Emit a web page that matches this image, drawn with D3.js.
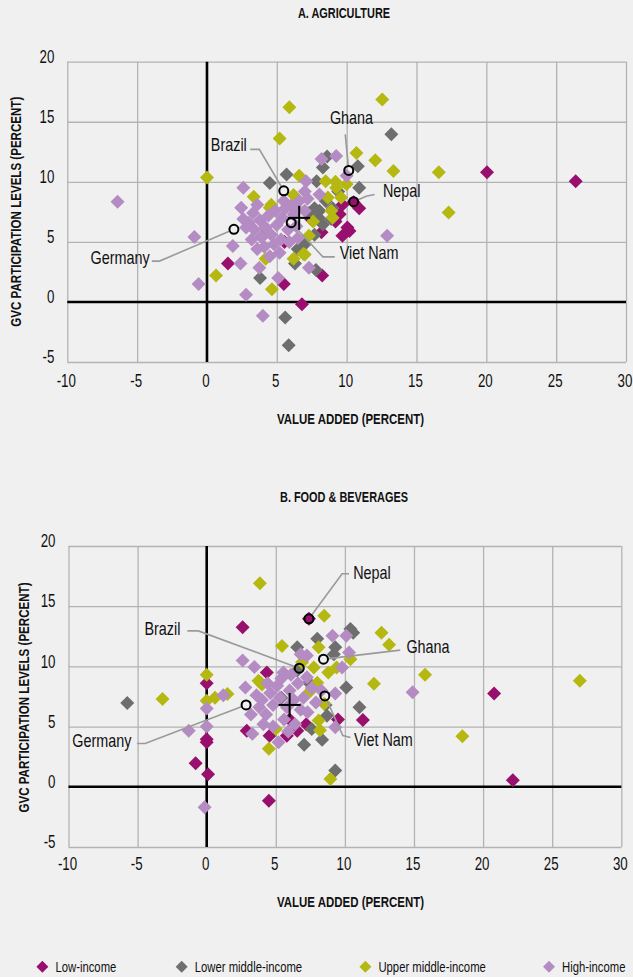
<!DOCTYPE html>
<html>
<head>
<meta charset="utf-8">
<script src="https://cdn.jsdelivr.net/npm/d3@7"></script>
<style>
body{margin:0;background:#f0f0f0;}
svg{display:block;font-family:"Liberation Sans",Arial,sans-serif;}
</style>
</head>
<body>
<svg id="chart" width="633" height="977"></svg>
<script>
//Data
const xTicks = [-10, -5, 0, 5, 10, 15, 20, 25, 30];
const yTicks = [-5, 0, 5, 10, 15, 20];
const incomeGroups = ['Low-income', 'Lower middle-income', 'Upper middle-income', 'High-income'];
const groupColors = ['#990f6e', '#6e6e6e', '#b5b811', '#b48cc3'];

// A. Agriculture: [value added, GVC participation]
const agriLow = [[20.05,10.8],[26.4,10.05],[1.5,3.2],[8.25,2.2],[5.5,1.5],[6.8,-0.2],[10.9,7.8],[9.7,5.5],
  [10.05,6.2],[8.2,5.8],[9.2,6.7],[10.5,8.3],[5.55,5.0],[4.0,5.5],[9.7,8.1],[10.2,5.9],[9.5,7.3],[7.45,6.9]];
const agriLowerMid = [[13.2,13.95],[5.85,-3.6],[5.6,-1.3],[3.8,2.0],[6.3,3.2],[7.8,2.65],[6.5,4.4],[10.9,9.5],
  [10.8,11.3],[8.6,12.1],[4.5,9.9],[5.7,10.6],[7.85,10.05],[8.3,11.2],[8.05,7.6],[8.3,6.45],[7.7,7.8],[8.5,8.4],
  [9.0,7.8],[8.9,6.9],[7.3,7.4],[8.0,7.0],[9.4,9.2],[7.0,4.8],[7.7,5.6]];
const agriUpperMid = [[12.55,16.85],[5.9,16.2],[0.0,10.35],[0.65,2.2],[4.65,1.05],[4.2,3.6],[6.9,4.0],[6.2,3.6],
  [7.3,5.5],[3.35,8.75],[4.6,8.1],[5.2,13.6],[10.7,12.4],[12.05,11.8],[13.35,10.9],[16.6,10.8],[17.3,7.45],
  [6.6,10.5],[8.5,10.05],[9.25,9.5],[9.6,8.7],[8.65,8.7],[9.0,7.0],[7.6,6.7],[4.5,7.85],[7.0,3.95],[9.2,10.0],
  [8.9,7.6],[6.2,8.9],[10.0,9.8]];
const agriHigh = [[-6.4,8.35],[-0.9,5.4],[-0.6,1.5],[12.9,5.5],[4.0,-1.15],[2.8,0.6],[2.4,3.2],[1.85,4.65],
  [3.75,2.85],[5.1,2.0],[7.3,2.85],[2.6,9.5],[2.45,7.85],[3.6,8.1],[9.25,12.15],[8.2,11.9],[10.0,10.5],
  [8.05,8.95],[7.1,10.05],[7.0,9.2],[6.6,8.4],[6.0,8.0],[3.0,6.6],[3.4,6.0],[3.8,6.8],[4.2,6.2],[4.6,5.6],
  [5.0,6.4],[5.4,7.0],[5.8,6.0],[6.2,7.3],[4.4,7.2],[3.9,5.4],[4.8,4.8],[5.3,5.2],[3.2,5.2],[2.8,6.2],
  [6.4,6.3],[5.6,7.8],[4.9,7.6],[4.1,4.6],[5.9,5.0],[6.5,5.3],[3.6,4.4],[5.2,4.1],[4.5,3.8],[6.3,7.9],
  [7.2,8.6],[5.5,8.4],[2.6,6.9],[7.0,7.6],[3.3,7.4]];
const agriMean = [6.6, 7.0];

// B. Food & beverages
const foodLow = [[0,8.6],[0,3.95],[0,3.7],[-0.8,1.95],[0.1,1.05],[20.8,7.75],[22.15,0.55],[7.4,13.95],[2.6,13.25],
  [4.5,-1.15],[11.3,5.55],[4.55,4.25],[5.8,4.25],[6.55,4.65],[9.5,5.6],[2.9,4.65],[4.35,9.5],[7.2,5.2],[6.0,5.6]];
const foodLowerMid = [[-5.75,6.95],[10.1,8.25],[11.05,6.6],[10.4,13.1],[8.0,12.3],[6.55,11.6],[9.3,11.6],[9.3,1.35],
  [7.05,3.5],[8.35,3.9],[7.6,4.8],[8.7,5.9],[7.4,8.65],[6.55,9.65],[9.2,11.0],[10.6,12.8],[8.6,6.8],[5.4,7.4]];
const foodUpperMid = [[-3.2,7.3],[0,9.3],[0,7.15],[0.6,7.4],[15.8,9.3],[27.0,8.8],[18.5,4.2],[3.85,16.9],[8.5,14.2],
  [12.65,12.8],[13.2,11.8],[12.1,8.55],[5.45,11.7],[8.1,11.6],[10.4,10.6],[8.8,9.5],[7.75,9.9],[4.0,8.5],
  [8.95,0.65],[4.5,3.15],[8.2,4.7],[5.0,4.8],[8.1,5.5],[8.5,6.9],[3.75,8.8],[7.5,7.95],[8.0,8.65],[6.9,10.35],
  [3.9,8.65],[1.5,7.7],[9.4,9.9]];
const foodHigh = [[0,6.5],[-1.3,4.65],[0,5.0],[-0.15,-1.7],[14.9,7.85],[10.1,12.55],[9.1,12.55],[10.3,11.15],
  [2.6,10.5],[3.45,9.95],[7.25,9.1],[9.8,9.9],[1.2,7.6],[2.8,8.25],[5.2,3.7],[9.3,4.95],[3.3,4.4],[9.3,7.75],
  [6.8,11.0],[7.25,10.9],[5.55,9.5],[4.3,6.0],[4.8,6.8],[5.3,7.4],[5.8,6.6],[6.3,7.2],[6.8,6.4],[4.6,7.8],
  [5.1,8.4],[5.6,5.6],[6.0,8.0],[6.6,8.6],[7.0,7.4],[4.1,5.2],[4.8,5.0],[7.3,6.2],[3.8,6.6],[5.4,9.0],
  [6.4,5.2],[7.6,8.2],[3.6,7.6],[4.4,8.6],[5.9,4.6],[7.9,7.0],[6.1,9.3],[8.3,8.0],[3.2,6.0],[4.0,7.2]];
const foodMean = [6.0, 6.8];

// highlighted countries: name, point, label anchor, leader bends
const agriCountries = [
  {name:'Ghana', at:[10.15,10.95], label:[10.35,15.3], anchor:'middle', path:[[9.9,13.95]]},
  {name:'Brazil', at:[5.5,9.25], label:[2.85,13.05], anchor:'end', path:[[3.1,12.7],[3.75,12.7]]},
  {name:'Nepal', at:[10.5,8.35], label:[12.6,9.25], anchor:'start', path:[[12.0,8.95],[11.4,8.8]]},
  {name:'Viet Nam', at:[6.03,6.6], label:[9.5,4.1], anchor:'start', path:[[9.15,3.75],[8.3,3.75]]},
  {name:'Germany', at:[1.93,6.05], label:[-4.1,3.65], anchor:'end', path:[[-3.95,3.4],[-3.4,3.4]]}
];
const foodCountries = [
  {name:'Nepal', at:[7.4,13.95], label:[10.6,17.8], anchor:'start', path:[[10.3,17.7],[9.8,17.7]]},
  {name:'Ghana', at:[8.45,10.6], label:[14.45,11.65], anchor:'start', path:[[14.0,11.35]]},
  {name:'Brazil', at:[6.7,9.85], label:[-1.9,13.15], anchor:'end', path:[[-1.4,12.95],[-0.6,12.95]]},
  {name:'Germany', at:[2.85,6.8], label:[-5.45,3.8], anchor:'end', path:[[-5.05,3.6],[-4.45,3.6]]},
  {name:'Viet Nam', at:[8.55,7.55], label:[10.65,3.95], anchor:'start', path:[[10.4,4.1],[9.85,4.25]]}
];

const svg = d3.select('#chart');
svg.append('rect').attr('width', 633).attr('height', 977).attr('fill', '#f0f0f0');

const diamond = 'M0,-7L7,0L0,7L-7,0Z';

// narrow the text like a condensed face (scale round its anchor point)
function squeeze(sel, f){
  sel.each(function(){
    const t = d3.select(this);
    const ax = +t.attr('x') || 0, ay = +t.attr('y') || 0;
    t.attr('transform', `translate(${ax},${ay}) scale(${f},1) translate(${-ax},${-ay})`);
  });
  return sel;
}

function drawPanel(cfg){
  const x = d3.scaleLinear([-10, 30], [cfg.left, cfg.right]);
  const y = d3.scaleLinear([-5, 20], [cfg.bottom, cfg.top]);
  const g = svg.append('g');

  // title
  squeeze(g.append('text').attr('x', 344).attr('y', cfg.titleY).attr('dy', '0.35em')
    .attr('text-anchor', 'middle').style('font-weight', 'bold').style('font-size', '14px')
    .attr('fill', '#111').text(cfg.title), 0.78);

  // axes + grid
  const xAxis = d3.axisBottom(x).tickValues(xTicks).tickSize(-(cfg.bottom - cfg.top))
    .tickPadding(cfg.tickPad).tickFormat(d3.format('d'));
  const yAxis = d3.axisLeft(y).tickValues(yTicks).tickSize(-(cfg.right - cfg.left))
    .tickPadding(13).tickFormat(d3.format('d'));

  const xg = g.append('g').attr('transform', `translate(0,${cfg.bottom})`).call(xAxis);
  const yg = g.append('g').attr('transform', `translate(${cfg.left},0)`).call(yAxis);
  [xg, yg].forEach(a => {
    a.select('.domain').remove();
    a.selectAll('line').attr('stroke', '#b3b3b3').attr('stroke-width', 1.3);
    a.selectAll('text').style('font-size', '18px').attr('fill', '#111')
      .style('font-family', 'inherit').text(d => String(d).replace('−', '-'));
  });
  yg.selectAll('text').attr('y', -5);
  xg.selectAll('text').attr('x', -1.5);
  squeeze(xg.selectAll('text'), 0.74);
  squeeze(yg.selectAll('text'), 0.74);

  // zero lines
  g.append('line').attr('x1', x(0)).attr('x2', x(0)).attr('y1', cfg.top).attr('y2', cfg.bottom)
    .attr('stroke', '#000').attr('stroke-width', 2.6);
  g.append('line').attr('x1', cfg.left).attr('x2', cfg.right).attr('y1', y(0)).attr('y2', y(0))
    .attr('stroke', '#000').attr('stroke-width', 2.6);

  // axis titles
  g.append('text').attr('x', 350.5).attr('y', cfg.axisTitleY).attr('dy', '0.35em')
    .attr('text-anchor', 'middle').style('font-weight', 'bold').style('font-size', '14px')
    .attr('fill', '#111').attr('textLength', 147).attr('lengthAdjust', 'spacingAndGlyphs')
    .text('VALUE ADDED (PERCENT)');
  g.append('text').attr('transform', `translate(${cfg.yTitleX},${cfg.yTitleY}) rotate(-90)`)
    .attr('dy', '0.35em').attr('text-anchor', 'middle').style('font-weight', 'bold').style('font-size', '14px')
    .attr('fill', '#111').attr('textLength', 230).attr('lengthAdjust', 'spacingAndGlyphs')
    .text('GVC PARTICIPATION LEVELS (PERCENT)');

  // points
  cfg.series.forEach((s, i) => {
    g.append('g').selectAll('path').data(s).join('path')
      .attr('d', diamond)
      .attr('transform', d => `translate(${x(d[0])},${y(d[1])})`)
      .attr('fill', groupColors[i]);
  });

  // leader lines
  const line = d3.line();
  cfg.countries.forEach(c => {
    const pts = c.path.map(p => [x(p[0]), y(p[1])]);
    const cx = x(c.at[0]), cy = y(c.at[1]);
    const last = pts[pts.length - 1];
    const dx = last[0] - cx, dy = last[1] - cy, len = Math.hypot(dx, dy);
    pts.push([cx + dx / len * 5, cy + dy / len * 5]);
    g.append('path').attr('d', line(pts)).attr('fill', 'none')
      .attr('stroke', '#9a9a9a').attr('stroke-width', 1.6);
    squeeze(g.append('text').attr('x', x(c.label[0])).attr('y', y(c.label[1])).attr('dy', '0.35em')
      .attr('text-anchor', c.anchor).style('font-size', '18px').attr('fill', '#111').text(c.name), 0.8);
  });

  // country circles
  g.append('g').selectAll('circle').data(cfg.countries).join('circle')
    .attr('cx', d => x(d.at[0])).attr('cy', d => y(d.at[1])).attr('r', 4.5)
    .attr('fill', 'none').attr('stroke', '#000').attr('stroke-width', 2);

  // mean cross
  const mx = x(cfg.mean[0]), my = y(cfg.mean[1]);
  g.append('line').attr('x1', mx - 11).attr('x2', mx + 11).attr('y1', my).attr('y2', my)
    .attr('stroke', '#000').attr('stroke-width', 2);
  g.append('line').attr('x1', mx).attr('x2', mx).attr('y1', my - 12).attr('y2', my + 12)
    .attr('stroke', '#000').attr('stroke-width', 2);
}

drawPanel({
  title:'A. AGRICULTURE', titleY:13,
  left:67.3, right:626, top:61.7, bottom:362, tickPad:12,
  axisTitleY:419, yTitleX:16.3, yTitleY:211.7,
  series:[agriLow, agriLowerMid, agriUpperMid, agriHigh],
  countries:agriCountries, mean:agriMean
});
drawPanel({
  title:'B. FOOD & BEVERAGES', titleY:497,
  left:68.5, right:621.3, top:546, bottom:847, tickPad:10,
  axisTitleY:902, yTitleX:24, yTitleY:697.5,
  series:[foodLow, foodLowerMid, foodUpperMid, foodHigh],
  countries:foodCountries, mean:foodMean
});

// legend
const legendX = [42.4, 181.7, 365.4, 549];
const legend = svg.append('g').attr('transform', 'translate(0,966.7)');
incomeGroups.forEach((name, i) => {
  legend.append('path').attr('d', 'M0,-6L6,0L0,6L-6,0Z')
    .attr('transform', `translate(${legendX[i]},0)`).attr('fill', groupColors[i]);
  squeeze(legend.append('text').attr('x', legendX[i] + 13).attr('y', 0).attr('dy', '0.35em')
    .style('font-size', '14.5px').attr('fill', '#111').text(name), 0.78);
});
</script>
</body>
</html>
